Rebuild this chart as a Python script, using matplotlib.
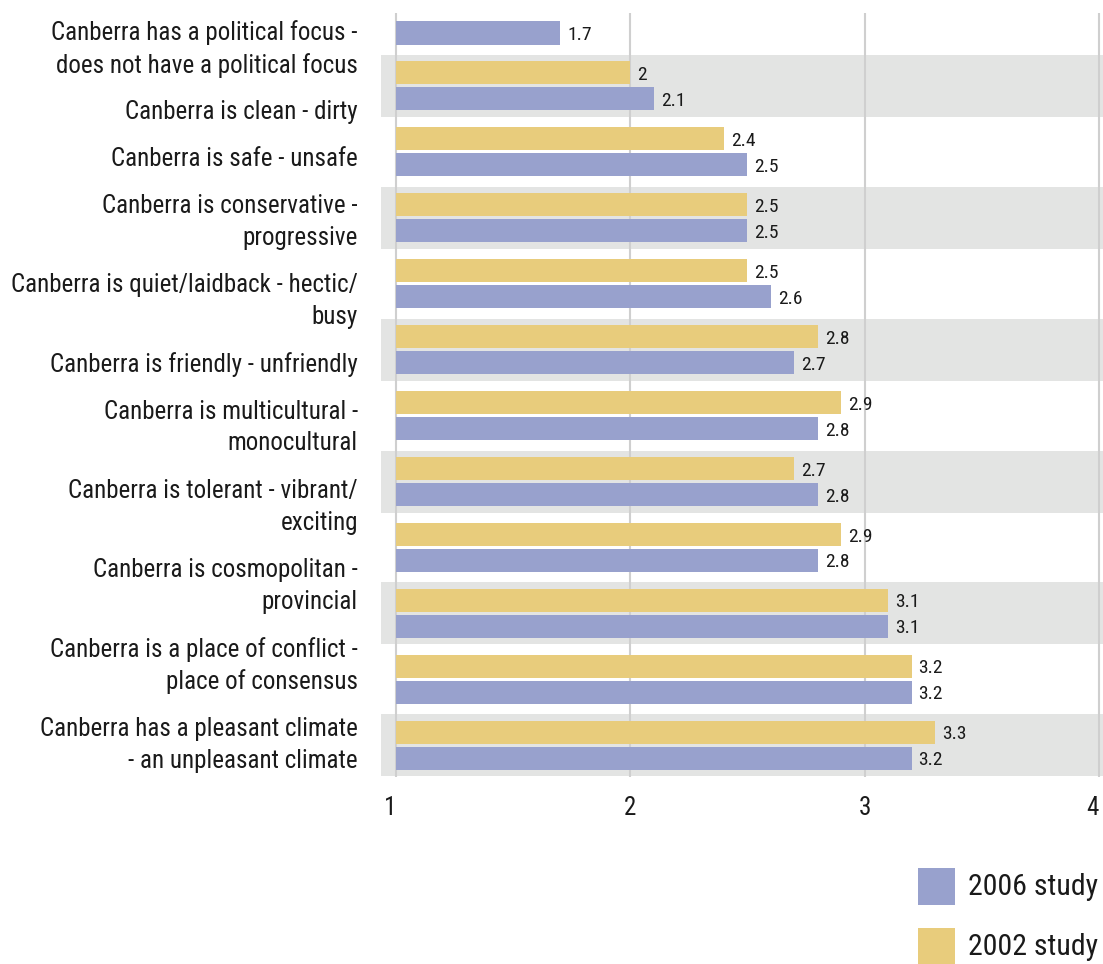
import matplotlib
matplotlib.use("Agg")
import matplotlib.pyplot as plt
import matplotlib.transforms as mtransforms
from matplotlib import font_manager
from matplotlib.patches import Rectangle
import numpy as np

# Survey statements (left-hand labels)
categories = [
    "Canberra has a political focus -\ndoes not have a political focus",
    "Canberra is clean - dirty",
    "Canberra is safe - unsafe",
    "Canberra is conservative -\nprogressive",
    "Canberra is quiet/laidback - hectic/\nbusy",
    "Canberra is friendly - unfriendly",
    "Canberra is multicultural -\nmonocultural",
    "Canberra is tolerant - vibrant/\nexciting",
    "Canberra is cosmopolitan -\nprovincial",
    "Canberra is a place of conflict -\nplace of consensus",
    "Canberra has a pleasant climate\n- an unpleasant climate",
]

# Mean scores, one pair per bar group (no 2002 value for the first group)
study_2006 = [1.7, 2.1, 2.5, 2.5, 2.6, 2.7, 2.8, 2.8, 2.8, 3.1, 3.2, 3.2]
study_2002 = [np.nan, 2.0, 2.4, 2.5, 2.5, 2.8, 2.9, 2.7, 2.9, 3.1, 3.2, 3.3]
x_ticks = [1, 2, 3, 4]
legend_labels = ["2006 study", "2002 study"]

PURPLE = "#98a1cd"
YELLOW = "#e8cc7c"
BAND = "#e3e4e3"
GRID = "#cfcfcf"
TEXT = "#1a1a1a"

# pick a narrow sans if one is installed
available = {f.name for f in font_manager.fontManager.ttflist}
family = "DejaVu Sans"
for name in ["Roboto Condensed", "Liberation Sans Narrow", "Liberation Sans"]:
    if name in available:
        family = name
        break
plt.rcParams["font.family"] = [family, "DejaVu Sans"]

W, H = 1103, 964
fig = plt.figure(figsize=(W / 100, H / 100), dpi=100)
ax = fig.add_axes([0.3454, 0.194, 0.6546, 0.7925])

n_groups = len(study_2006)
groups = np.arange(n_groups)
bar_h = 0.35
offset = 0.197

# alternating grey bands behind every second group
for g in groups[1::2]:
    ax.axhspan(g - 0.47, g + 0.47, color=BAND, zorder=0, lw=0)

for xv in x_ticks:
    ax.axvline(xv, color=GRID, lw=1.5, zorder=1)

v02 = np.array(study_2002, dtype=float)
v06 = np.array(study_2006, dtype=float)
ax.barh(groups - offset, v02 - 1, left=1, height=bar_h, color=YELLOW, zorder=2)
ax.barh(groups + offset, v06 - 1, left=1, height=bar_h, color=PURPLE, zorder=2)

pad = 0.03
for g, v in zip(groups, v02):
    if not np.isnan(v):
        ax.text(v + pad, g - offset + 0.03, f"{v:g}", va="center", ha="left",
                fontsize=14, color=TEXT, zorder=3)
for g, v in zip(groups, v06):
    ax.text(v + pad, g + offset + 0.03, f"{v:g}", va="center", ha="left",
            fontsize=14, color=TEXT, zorder=3)

ax.set_xlim(0.936, 4.017)
ax.set_ylim(11.48, -0.106)
ax.set_xticks(x_ticks)
ax.set_xticklabels([str(t) for t in x_ticks], fontsize=18, color=TEXT)
ax.tick_params(axis="x", length=0, pad=14)
# end labels sit just inside their gridlines
xt = ax.get_xticklabels()
xt[0].set_ha("right")
xt[-1].set_ha("right")
ax.set_yticks([])
for s in ax.spines.values():
    s.set_visible(False)

# statement labels flow down the left side as a text block
line_step = 32.6 / 65.95
para_gap = 46.8 / 65.95
y = 0.19
trans = mtransforms.blended_transform_factory(ax.transAxes, ax.transData)
for label in categories:
    n_lines = label.count("\n") + 1
    center = y + line_step * (n_lines - 1) / 2
    ax.text(-0.032, center, label, transform=trans, ha="right", va="center",
            fontsize=18, color=TEXT, linespacing=1.4, clip_on=False)
    y += line_step * (n_lines - 1) + para_gap

# legend swatches in the lower right corner
for i, (lab, col) in enumerate(zip(legend_labels, [PURPLE, YELLOW])):
    top = 868 + 60 * i
    fig.add_artist(Rectangle((918 / W, 1 - (top + 37) / H), 37 / W, 37 / H,
                             transform=fig.transFigure, color=col, lw=0))
    fig.text(968 / W, 1 - (top + 19) / H, lab, ha="left", va="center",
             fontsize=21.5, color=TEXT)

fig.savefig("out.png", dpi=100)
